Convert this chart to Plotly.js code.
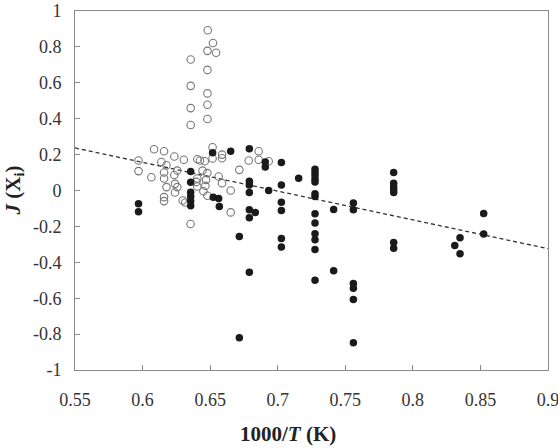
<!DOCTYPE html>
<html>
<head>
<meta charset="utf-8">
<script src="https://cdn.plot.ly/plotly-3.0.1.min.js"></script>
<style>html,body{margin:0;padding:0;background:#fff;}#chart{width:558px;height:448px;}</style>
</head>
<body>
<div id="chart"></div>
<script>
// Open circles (hollow)
const openX = [0.6482,0.6521,0.648,0.6544,0.6356,0.648,0.6356,0.648,0.648,0.6356,0.648,0.6356,
  0.597,0.597,0.6085,0.6159,0.6065,0.6139,0.6159,0.6159,0.6235,0.6305,0.6177,0.6257,0.6235,0.6177,0.624,0.6257,0.624,0.6159,0.6159,0.6297,0.6316,0.6355,
  0.6405,0.6425,0.646,0.6444,0.6405,0.6398,0.6405,0.6479,0.647,0.6465,0.645,0.648,0.6563,0.6588,
  0.6518,0.6518,0.6588,0.6588,0.6859,0.6785,0.6859,0.6933,0.6716,0.6652,0.6652];
const openY = [0.893,0.822,0.778,0.767,0.730,0.672,0.583,0.541,0.478,0.459,0.398,0.365,
  0.167,0.108,0.230,0.219,0.074,0.159,0.100,0.067,0.189,0.171,0.141,0.111,0.086,0.019,0.037,0.019,-0.011,-0.037,-0.059,-0.056,-0.067,-0.187,
  0.174,0.167,0.163,0.111,0.067,0.048,0.022,0.097,0.059,0.026,-0.004,-0.029,0.078,0.041,
  0.241,0.178,0.200,0.180,0.219,0.167,0.171,0.163,0.115,0.0,-0.122];
// Filled circles
const fillX = [0.597,0.597,
  0.6356,0.6356,0.6356,0.6356,0.6356,0.6356,
  0.6518,0.6652,0.679,0.6908,0.6908,0.7027,
  0.7155,0.679,0.679,0.679,0.7027,0.6933,0.7027,0.7027,0.679,0.6834,0.679,0.6523,0.6563,0.6568,0.6716,0.7027,0.7027,0.679,0.6716,
  0.7276,0.7276,0.7276,0.7276,0.7276,0.7276,0.7276,0.7276,0.7276,0.7276,0.7276,0.7276,0.7276,
  0.7414,0.7414,0.756,0.756,0.756,0.756,0.756,0.756,
  0.7858,0.7858,0.7858,0.7858,0.7858,0.7858,0.7858,
  0.831,0.8349,0.8349,0.8524,0.8524];
const fillY = [-0.074,-0.118,
  0.106,0.046,-0.010,-0.033,-0.058,-0.085,
  0.211,0.219,0.233,0.159,0.131,0.156,
  0.068,0.052,0.030,-0.011,0.030,0.0,-0.065,-0.112,-0.107,-0.122,-0.152,-0.037,-0.044,-0.089,-0.256,-0.267,-0.315,-0.456,-0.820,
  0.119,0.100,0.082,0.063,0.048,-0.018,-0.033,-0.129,-0.181,-0.241,-0.274,-0.329,-0.500,
  -0.106,-0.447,-0.070,-0.107,-0.518,-0.544,-0.607,-0.848,
  0.100,0.041,0.019,0.004,-0.011,-0.289,-0.322,
  -0.307,-0.263,-0.352,-0.128,-0.242];
// Linear trend line
const trendX = [0.55, 0.9];
const trendY = [0.237, -0.324];
// Tick values
const xTicks = [0.55,0.6,0.65,0.7,0.75,0.8,0.85,0.9];
const xTickText = ["0.55","0.6","0.65","0.7","0.75","0.8","0.85","0.9"];
const yTicks = [-1,-0.8,-0.6,-0.4,-0.2,0,0.2,0.4,0.6,0.8,1];
const yTickText = ["-1","-0.8","-0.6","-0.4","-0.2","0","0.2","0.4","0.6","0.8","1"];

const font = "Liberation Serif, Times New Roman, serif";
const traces = [
  {x: trendX, y: trendY, mode: "lines", line: {color: "#333", width: 1.3, dash: "4px,3px"}, hoverinfo: "skip"},
  {x: openX, y: openY, mode: "markers", marker: {symbol: "circle-open", size: 7.5, color: "#777", line: {width: 1.1, color: "#777"}}},
  {x: fillX, y: fillY, mode: "markers", marker: {symbol: "circle", size: 7.5, color: "#1a1a1a", line: {width: 0}}}
];
const axisCommon = {
  showgrid: false, zeroline: false, showline: true, linecolor: "#8a8a8a", linewidth: 1, mirror: true,
  ticks: "inside", ticklen: 5, tickcolor: "#8a8a8a", tickwidth: 1,
  tickfont: {family: font, size: 18, color: "#333"}, tickmode: "array", ticklabeloverflow: "allow"
};
const layout = {
  width: 558, height: 448,
  margin: {l: 75, r: 10, t: 11, b: 78},
  paper_bgcolor: "#fff", plot_bgcolor: "#fff",
  showlegend: false,
  xaxis: Object.assign({}, axisCommon, {range: [0.55, 0.9], tickvals: xTicks, ticktext: xTickText, ticklabelstandoff: 13}),
  yaxis: Object.assign({}, axisCommon, {range: [-1, 1], tickvals: yTicks, ticktext: yTickText, ticklabelstandoff: 9}),
  annotations: [
    {xref: "paper", yref: "paper", x: 0.45, y: -0.2173, xanchor: "center", yanchor: "bottom", showarrow: false,
     text: "<b>1000/<i>T</i> (K)</b>", font: {family: font, size: 21, color: "#222"}},
    {xref: "paper", yref: "paper", x: -0.131, y: 0.5, xanchor: "center", yanchor: "middle", showarrow: false, textangle: -90,
     text: "<b><i>J</i> (X<sub>i</sub>)</b>", font: {family: font, size: 21, color: "#222"}}
  ]
};
Plotly.newPlot("chart", traces, layout, {staticPlot: true, displayModeBar: false});
</script>
</body>
</html>
